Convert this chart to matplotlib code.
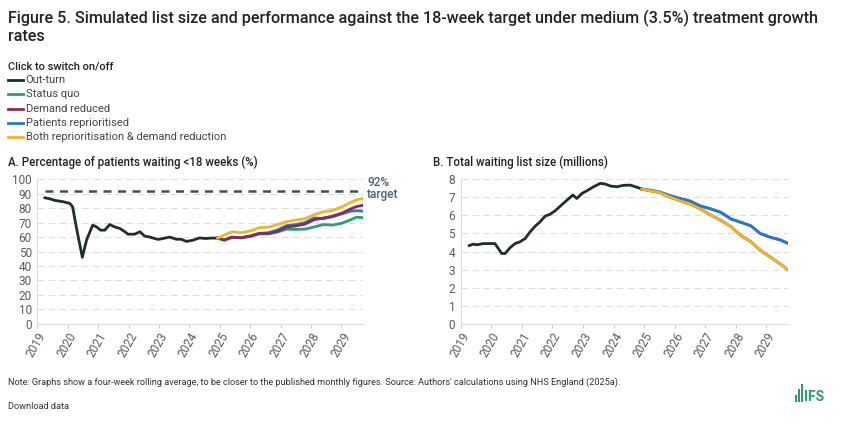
import matplotlib
matplotlib.use("Agg")
import matplotlib.pyplot as plt
from matplotlib.patches import Rectangle

plt.rcParams["font.family"] = ["Roboto", "DejaVu Sans"]

# ---- data ----
# A. % waiting < 18 weeks, out-turn
pct_out_t = [2019.25, 2019.42, 2019.58, 2019.85, 2020.07, 2020.16, 2020.29, 2020.48,
             2020.62, 2020.82, 2020.95, 2021.08, 2021.22, 2021.38, 2021.55, 2021.71,
             2021.88, 2021.98, 2022.2, 2022.37, 2022.53, 2022.7, 2022.86, 2022.97,
             2023.13, 2023.35, 2023.57, 2023.73, 2023.9, 2024.11, 2024.33, 2024.55,
             2024.7, 2024.93]
pct_out_v = [87.2, 86.5, 85.4, 84.5, 83.3, 81.0, 66.0, 46.0,
             58.0, 68.3, 67.0, 64.8, 64.8, 68.7, 67.0, 66.0,
             63.7, 62.0, 62.0, 63.7, 60.7, 60.0, 59.0, 58.4,
             59.0, 60.0, 58.5, 58.5, 57.0, 57.8, 59.4, 59.0,
             59.3, 59.3]

# A. projections
pct_proj_t = [2024.93, 2025.15, 2025.4, 2025.7, 2026.0, 2026.3, 2026.6, 2026.9,
              2027.2, 2027.5, 2027.8, 2028.1, 2028.4, 2028.7, 2029.0, 2029.3,
              2029.5, 2029.7]
pct_status_quo = [59.3, 58.0, 59.8, 59.5, 60.5, 62.2, 62.2, 63.5,
                  65.5, 65.3, 65.5, 67.0, 68.7, 68.3, 69.5, 72.0,
                  73.8, 73.5]
pct_demand_red = [59.3, 57.9, 60.0, 59.5, 60.6, 62.5, 62.5, 64.0,
                  67.0, 67.7, 69.0, 72.0, 73.2, 74.5, 76.5, 79.5,
                  81.2, 82.0]
pct_reprior = [59.3, 58.0, 59.9, 59.6, 60.8, 62.6, 63.0, 65.0,
               68.0, 68.7, 70.0, 73.3, 72.8, 74.0, 76.0, 77.9,
               78.3, 78.0]
pct_both = [59.3, 61.4, 63.7, 63.0, 64.2, 66.5, 66.9, 68.6,
            70.7, 71.8, 72.8, 75.5, 77.5, 78.5, 80.8, 84.0,
            85.8, 86.6]

# B. total waiting list (millions), out-turn
list_out_t = [2019.28, 2019.41, 2019.52, 2019.74, 2019.96, 2020.12, 2020.23, 2020.34,
              2020.45, 2020.62, 2020.78, 2020.94, 2021.11, 2021.27, 2021.44, 2021.6,
              2021.76, 2021.93, 2022.09, 2022.26, 2022.42, 2022.58, 2022.67, 2022.8,
              2022.97, 2023.13, 2023.35, 2023.57, 2023.73, 2023.9, 2024.11, 2024.33,
              2024.55, 2024.77, 2024.93]
list_out_v = [4.33, 4.41, 4.37, 4.44, 4.44, 4.44, 4.17, 3.89,
              3.89, 4.22, 4.44, 4.54, 4.72, 5.09, 5.41, 5.65,
              5.96, 6.07, 6.26, 6.52, 6.76, 7.0, 7.13, 6.94,
              7.22, 7.37, 7.59, 7.78, 7.74, 7.63, 7.59, 7.67,
              7.68, 7.56, 7.46]

# B. projections
list_proj_t = [2024.93, 2025.2, 2025.5, 2025.85, 2026.2, 2026.5, 2026.85, 2027.15,
               2027.5, 2027.85, 2028.15, 2028.5, 2028.8, 2029.15, 2029.45, 2029.7]
list_status_quo = [7.46, 7.40, 7.30, 7.10, 6.93, 6.80, 6.52, 6.38,
                   6.18, 5.80, 5.63, 5.42, 5.0, 4.78, 4.65, 4.46]
list_demand_red = [7.46, 7.37, 7.27, 7.02, 6.80, 6.64, 6.35, 6.05,
                   5.74, 5.37, 4.91, 4.54, 4.07, 3.67, 3.32, 3.0]
list_reprior = list(list_status_quo)
list_both = list(list_demand_red)

series = ["Out-turn", "Status quo", "Demand reduced", "Patients reprioritised",
          "Both reprioritisation & demand reduction"]
colors = {"Out-turn": "#1f2e2c", "Status quo": "#2e9e6c", "Demand reduced": "#862c58",
          "Patients reprioritised": "#2d74c6", "Both reprioritisation & demand reduction": "#efb52a"}

years = list(range(2019, 2030))
TICK = "#5a5a5a"
GRID = "#dedede"

fig = plt.figure(figsize=(8.48, 4.24), dpi=100)

fig.text(0.0095, 0.976, "Figure 5. Simulated list size and performance against the 18-week target "
         "under medium (3.5%) treatment growth\nrates", fontsize=11.6, fontweight="medium",
         color="#222222", va="top", ha="left", linespacing=1.12)

fig.text(0.0095, 0.844, "Click to switch on/off", fontsize=8, fontweight="medium",
         color="#222222", va="center")
for i, s in enumerate(series):
    y = 0.811 - i * 0.0335
    fig.add_artist(plt.Line2D([0.0095, 0.027], [y, y], color=colors[s], lw=2))
    fig.text(0.0305, y, s, fontsize=8, color="#444444", va="center")


def style(ax):
    ax.set_xlim(2019, 2029.72)
    ax.set_xticks(years)
    ax.set_xticklabels([str(y) for y in years], rotation=60, ha="right",
                       rotation_mode="anchor", fontsize=8.5, color=TICK)
    ax.tick_params(axis="x", length=3, color="#cccccc", pad=2)
    ax.tick_params(axis="y", length=0, labelsize=8.5, labelcolor=TICK, pad=4)
    ax.grid(axis="y", color=GRID, lw=0.8, ls=(0, (6, 4)))
    ax.set_axisbelow(True)
    for side in ["top", "right"]:
        ax.spines[side].set_visible(False)
    for side in ["left", "bottom"]:
        ax.spines[side].set_color("#dddddd")
        ax.spines[side].set_linewidth(0.8)


# ---- A ----
axA = fig.add_axes([0.044, 0.2366, 0.3845, 0.3404])
style(axA)
axA.set_ylim(0, 100)
axA.set_yticks(range(0, 101, 10))
axA.plot([pct_out_t[0], 2029.7], [92, 92], color="#3d5159", lw=1.8, ls=(0, (3.2, 2.6)))
axA.text(2029.85, 93.5, "92%\ntarget", fontsize=8.5, color="#41646c", fontweight="medium",
         va="center", ha="left", linespacing=0.9, clip_on=False)
axA.plot(pct_out_t, pct_out_v, color=colors["Out-turn"], lw=2)
axA.plot(pct_proj_t, pct_status_quo, color=colors["Status quo"], lw=2)
axA.plot(pct_proj_t, pct_reprior, color=colors["Patients reprioritised"], lw=2)
axA.plot(pct_proj_t, pct_demand_red, color=colors["Demand reduced"], lw=2)
axA.plot(pct_proj_t, pct_both, color=colors["Both reprioritisation & demand reduction"], lw=2)
fig.text(0.0095, 0.618, "A. Percentage of patients waiting <18 weeks (%)", fontsize=8.3,
         fontweight="medium", color="#222222", va="center")

# ---- B ----
axB = fig.add_axes([0.5433, 0.2366, 0.3863, 0.3404])
style(axB)
axB.set_ylim(0, 8)
axB.set_yticks(range(0, 9))
axB.plot(list_out_t, list_out_v, color=colors["Out-turn"], lw=2)
axB.plot(list_proj_t, list_status_quo, color=colors["Status quo"], lw=2)
axB.plot(list_proj_t, list_reprior, color=colors["Patients reprioritised"], lw=2)
axB.plot(list_proj_t, list_demand_red, color=colors["Demand reduced"], lw=2)
axB.plot(list_proj_t, list_both, color=colors["Both reprioritisation & demand reduction"], lw=2)
fig.text(0.5105, 0.618, "B. Total waiting list size (millions)", fontsize=8.3,
         fontweight="medium", color="#222222", va="center")

# ---- footer ----
fig.text(0.0095, 0.098, "Note: Graphs show a four-week rolling average, to be closer to the published "
         "monthly figures. Source: Authors' calculations using NHS England (2025a).",
         fontsize=6.6, color="#333333", va="center")
fig.text(0.0095, 0.042, "Download data", fontsize=6.6, color="#333333", va="center")

# IFS logo
logo_green = "#2f9a6c"
for k, h in enumerate([0.0165, 0.031, 0.0425]):
    fig.add_artist(Rectangle((0.9375 + k * 0.0036, 0.052), 0.0024, h,
                             transform=fig.transFigure, color=logo_green, lw=0))
fig.text(0.9482, 0.0645, "IFS", fontsize=10, fontweight="bold", color=logo_green,
         va="center", ha="left")

fig.savefig("out.png", dpi=100)
